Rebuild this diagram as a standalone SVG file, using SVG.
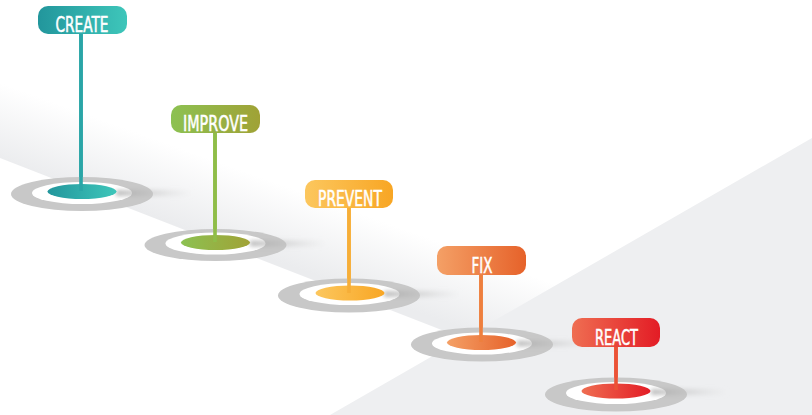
<svg xmlns="http://www.w3.org/2000/svg" width="812" height="415" viewBox="0 0 812 415">
<style>
.ring{fill:#c8c8c8}
.white{fill:#ffffff}
.pin{stroke-width:3.6;fill:none}
.lbl{font-family:"DejaVu Sans Condensed","DejaVu Sans",sans-serif;font-size:21px;fill:#ffffff;stroke:#ffffff;stroke-width:0.5;text-anchor:middle}
.sline{stroke:url(#sl);stroke-width:2.5}
.tail{fill:url(#tl);filter:url(#blur)}
</style>
<defs>
<linearGradient id="band" gradientUnits="userSpaceOnUse" x1="125" y1="128" x2="100" y2="197">
<stop offset="0" stop-color="#ebecee" stop-opacity="0"/>
<stop offset="1" stop-color="#ebecee" stop-opacity="1"/>
</linearGradient>
<linearGradient id="sl" x1="0" y1="0" x2="1" y2="0">
<stop offset="0" stop-color="#6e6e6e"/>
<stop offset="0.7" stop-color="#7a7a7a"/>
<stop offset="1" stop-color="#8a8a8a" stop-opacity="0.6"/>
</linearGradient>
<linearGradient id="tl" x1="0" y1="0" x2="1" y2="0">
<stop offset="0" stop-color="#a0a0a0" stop-opacity="0.7"/>
<stop offset="0.45" stop-color="#bdbdbd" stop-opacity="0.5"/>
<stop offset="1" stop-color="#d5d5d5" stop-opacity="0"/>
</linearGradient>
<filter id="blur" x="-20%" y="-200%" width="140%" height="500%"><feGaussianBlur stdDeviation="2"/></filter>
<filter id="soft" x="-5%" y="-20%" width="110%" height="140%"><feGaussianBlur stdDeviation="0.6"/></filter>
<linearGradient id="gC" x1="0" y1="0" x2="1" y2="0"><stop offset="0" stop-color="#22969c"/><stop offset="1" stop-color="#3ec6ba"/></linearGradient>
<linearGradient id="gI" x1="0" y1="0" x2="1" y2="0"><stop offset="0" stop-color="#8cc152"/><stop offset="1" stop-color="#a0a236"/></linearGradient>
<linearGradient id="gP" x1="0" y1="0" x2="1" y2="0"><stop offset="0" stop-color="#fcc75e"/><stop offset="1" stop-color="#f8a624"/></linearGradient>
<linearGradient id="gF" x1="0" y1="0" x2="1" y2="0"><stop offset="0" stop-color="#f4a066"/><stop offset="1" stop-color="#e6622a"/></linearGradient>
<linearGradient id="gR" x1="0" y1="0" x2="1" y2="0"><stop offset="0" stop-color="#ef6e52"/><stop offset="1" stop-color="#e31c25"/></linearGradient>
</defs>

<g id="background">
<rect x="0" y="0" width="812" height="415" fill="#ffffff"/>
<polygon points="0,70 620,310 620,400 470,341 0,158" fill="url(#band)"/>
<polygon points="330,415 812,138 812,415" fill="#eeeff1"/>
</g>

<g id="connectors">
<line class="pin" stroke="#2aa5a7" x1="81" y1="33" x2="81" y2="191"/>
<line class="pin" stroke="#8fbd48" x1="215" y1="132" x2="215" y2="242"/>
<line class="pin" stroke="#f6ae38" x1="349" y1="206" x2="349" y2="293"/>
<line class="pin" stroke="#ee7f3e" x1="481" y1="274" x2="481" y2="342"/>
<line class="pin" stroke="#eb5236" x1="616" y1="346" x2="616" y2="390"/>
</g>

<g id="create">
<ellipse class="ring" filter="url(#soft)" cx="82" cy="194" rx="71" ry="17"/>
<ellipse class="white" cx="82" cy="193" rx="50" ry="11"/>
<rect class="tail" x="116" y="190" width="78" height="6"/>
<ellipse fill="url(#gC)" cx="82" cy="191.5" rx="34.5" ry="7.5"/>
<line class="pin" stroke="#2aa5a7" x1="81" y1="33" x2="81" y2="191"/>
<line class="sline" x1="82" y1="192.5" x2="120" y2="192.5"/>
<rect x="38" y="6" width="89" height="28" rx="10" fill="url(#gC)"/>
<text class="lbl" x="82" y="32" textLength="53" lengthAdjust="spacingAndGlyphs">CREATE</text>
</g>

<g id="improve">
<ellipse class="ring" filter="url(#soft)" cx="215.5" cy="245" rx="71" ry="16"/>
<ellipse class="white" cx="215.5" cy="243.5" rx="50" ry="11"/>
<rect class="tail" x="250" y="240.5" width="78" height="6"/>
<ellipse fill="url(#gI)" cx="215.5" cy="242.5" rx="34.5" ry="7.5"/>
<line class="pin" stroke="#8fbd48" x1="215" y1="132" x2="215" y2="242"/>
<line class="sline" x1="216" y1="243.5" x2="254" y2="243.5"/>
<rect x="171" y="105" width="89" height="28" rx="10" fill="url(#gI)"/>
<text class="lbl" x="215.5" y="131" textLength="65" lengthAdjust="spacingAndGlyphs">IMPROVE</text>
</g>

<g id="prevent">
<ellipse class="ring" filter="url(#soft)" cx="349" cy="295.5" rx="71" ry="17"/>
<ellipse class="white" cx="349.5" cy="294" rx="50" ry="11"/>
<rect class="tail" x="384" y="291" width="78" height="6"/>
<ellipse fill="url(#gP)" cx="350" cy="293" rx="34.5" ry="7.5"/>
<line class="pin" stroke="#f6ae38" x1="349" y1="206" x2="349" y2="293"/>
<line class="sline" x1="350" y1="294" x2="388" y2="294"/>
<rect x="305" y="180" width="88" height="28" rx="10" fill="url(#gP)"/>
<text class="lbl" x="350" y="206" textLength="64" lengthAdjust="spacingAndGlyphs">PREVENT</text>
</g>

<g id="fix">
<ellipse class="ring" filter="url(#soft)" cx="482" cy="344.5" rx="71" ry="17"/>
<ellipse class="white" cx="482" cy="343.5" rx="50" ry="11"/>
<rect class="tail" x="517" y="340.5" width="78" height="6"/>
<ellipse fill="url(#gF)" cx="481.5" cy="342.5" rx="34.5" ry="7.5"/>
<line class="pin" stroke="#ee7f3e" x1="481" y1="274" x2="481" y2="342"/>
<line class="sline" x1="482" y1="343.5" x2="520" y2="343.5"/>
<rect x="437" y="246" width="89" height="29" rx="10" fill="url(#gF)"/>
<text class="lbl" x="482" y="272.5" textLength="21" lengthAdjust="spacingAndGlyphs">FIX</text>
</g>

<g id="react">
<ellipse class="ring" filter="url(#soft)" cx="616" cy="394.5" rx="71" ry="17"/>
<ellipse class="white" cx="616" cy="393" rx="50" ry="11"/>
<rect class="tail" x="651" y="389" width="78" height="6"/>
<ellipse fill="url(#gR)" cx="616" cy="391" rx="34.5" ry="7.5"/>
<line class="pin" stroke="#eb5236" x1="616" y1="346" x2="616" y2="390"/>
<line class="sline" x1="617" y1="392" x2="655" y2="392"/>
<rect x="572" y="318" width="88" height="29" rx="10" fill="url(#gR)"/>
<text class="lbl" x="616.5" y="344.5" textLength="43" lengthAdjust="spacingAndGlyphs">REACT</text>
</g>
</svg>
